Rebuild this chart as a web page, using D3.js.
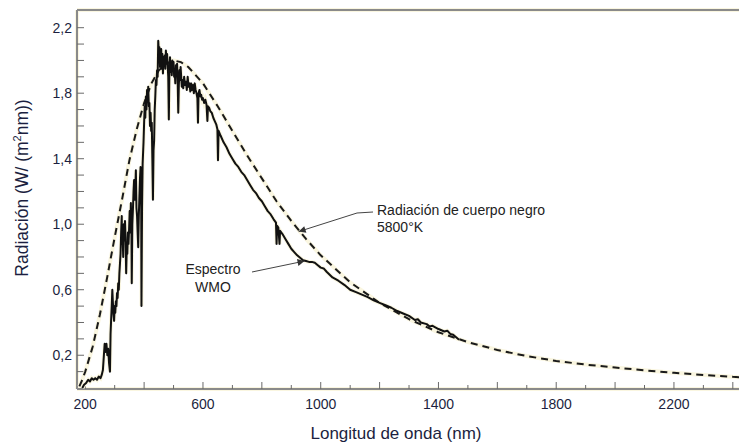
<!DOCTYPE html>
<html>
<head>
<meta charset="utf-8">
<script src="https://cdn.jsdelivr.net/npm/d3@7"></script>
<style>
  body { margin: 0; background: #fff; }
  text { font-family: "Liberation Sans", Arial, sans-serif; }
</style>
</head>
<body>
<div id="chart"></div>
<script>

// blackbody curve 5800 K (dashed)
var bodyNm = [180, 190, 200, 225, 250, 275, 300, 325, 350, 375, 400, 425, 450, 475, 500, 525, 550, 600, 650, 700,
  750, 800, 850, 900, 950, 1000, 1100, 1200, 1300, 1400, 1500, 1600, 1700, 1800, 1900, 2000, 2100, 2200, 2300, 2400, 2450];
var bodyVal = [0.01, 0.05, 0.10, 0.25, 0.45, 0.68, 0.92, 1.15, 1.39, 1.58, 1.74, 1.86, 1.94, 1.98, 2.00, 1.99, 1.96, 1.86, 1.72, 1.57,
  1.42, 1.28, 1.14, 1.02, 0.91, 0.81, 0.645, 0.52, 0.42, 0.34, 0.28, 0.232, 0.195, 0.165, 0.143, 0.125, 0.108, 0.093, 0.08, 0.068, 0.064];

// WMO spectrum (solid)
var wmoNm = [190, 196, 203, 210, 216, 222, 228, 234, 240, 246, 252, 256, 260, 263, 266, 269, 272, 275, 278, 281,
  284, 286, 288, 290, 292, 294, 296, 298, 300, 302, 304, 306, 308, 310, 312, 314, 316, 318, 320, 322,
  324, 325, 327, 329, 331, 333, 335, 337, 339, 341, 343, 345, 347, 349, 351, 353, 355, 357, 358, 360,
  362, 364, 366, 368, 370, 372, 374, 376, 378, 380, 382, 384, 386, 388, 390, 391, 393, 395, 398, 400,
  402, 404, 406, 408, 410, 412, 414, 416, 418, 420, 422, 424, 426, 428, 430, 432, 434, 436, 438, 440,
  442, 444, 446, 448, 450, 452, 454, 456, 458, 460, 462, 464, 466, 468, 470, 472, 474, 476, 478, 480,
  482, 484, 486, 488, 490, 492, 494, 496, 498, 500, 502, 504, 506, 508, 510, 512, 514, 516, 518, 520,
  522, 524, 526, 528, 530, 533, 536, 539, 542, 545, 548, 551, 554, 557, 560, 563, 566, 569, 572, 575,
  578, 581, 583, 585, 588, 591, 594, 597, 600, 604, 608, 612, 615, 617, 621, 625, 630, 635, 640, 645,
  649, 651, 653, 660, 670, 680, 690, 700, 710, 720, 730, 740, 750, 760, 770, 780, 790, 800, 810, 820,
  830, 840, 848, 850, 852, 856, 860, 862, 870, 880, 890, 900, 910, 920, 930, 940, 950, 960, 970, 980,
  990, 1000, 1010, 1020, 1040, 1060, 1080, 1100, 1120, 1140, 1160, 1180, 1200, 1220, 1240, 1260, 1280, 1300, 1320, 1330,
  1340, 1360, 1370, 1380, 1400, 1420, 1430, 1440, 1450, 1460, 1470];
var wmoVal = [0.00, 0.02, 0.03, 0.05, 0.04, 0.06, 0.05, 0.06, 0.05, 0.07, 0.06, 0.08, 0.11, 0.19, 0.27, 0.22, 0.27, 0.20, 0.24, 0.15,
  0.10, 0.33, 0.42, 0.50, 0.60, 0.52, 0.45, 0.41, 0.50, 0.46, 0.53, 0.50, 0.58, 0.55, 0.64, 0.60, 0.70, 0.76, 0.82, 0.95,
  1.05, 0.88, 0.93, 0.80, 1.00, 0.90, 1.02, 0.92, 0.70, 0.85, 0.82, 0.95, 0.88, 0.97, 1.08, 0.95, 1.13, 0.95, 0.64, 1.00,
  1.09, 1.20, 1.27, 1.15, 1.21, 1.33, 1.10, 1.05, 0.95, 0.86, 1.05, 1.17, 1.28, 1.35, 1.20, 0.50, 1.10, 1.37, 1.50, 1.62,
  1.72, 1.65, 1.78, 1.70, 1.82, 1.78, 1.84, 1.72, 1.74, 1.60, 1.68, 1.57, 1.62, 1.40, 1.15, 1.45, 1.51, 1.70, 1.78, 1.88,
  1.85, 1.94, 1.90, 2.12, 2.05, 2.08, 1.96, 2.00, 2.07, 1.95, 2.04, 1.92, 2.02, 1.98, 2.03, 1.95, 2.06, 1.99, 2.04, 1.97,
  1.90, 1.64, 1.95, 2.02, 1.93, 1.98, 1.91, 2.00, 1.95, 1.99, 1.90, 1.93, 1.86, 1.97, 1.92, 1.98, 1.88, 1.68, 1.85, 1.94,
  1.88, 1.96, 1.90, 1.84, 1.88, 1.83, 1.90, 1.85, 1.87, 1.82, 1.90, 1.84, 1.86, 1.81, 1.86, 1.82, 1.85, 1.80, 1.86, 1.82,
  1.80, 1.77, 1.62, 1.80, 1.82, 1.78, 1.79, 1.76, 1.77, 1.74, 1.76, 1.73, 1.63, 1.72, 1.71, 1.69, 1.68, 1.65, 1.63, 1.61,
  1.58, 1.39, 1.57, 1.54, 1.50, 1.47, 1.43, 1.40, 1.37, 1.35, 1.32, 1.30, 1.27, 1.24, 1.21, 1.19, 1.16, 1.14, 1.11, 1.08,
  1.06, 1.03, 1.01, 0.88, 0.99, 0.98, 0.88, 0.96, 0.94, 0.91, 0.88, 0.85, 0.83, 0.81, 0.795, 0.78, 0.775, 0.77, 0.77, 0.765,
  0.75, 0.735, 0.73, 0.71, 0.675, 0.655, 0.63, 0.60, 0.585, 0.57, 0.555, 0.535, 0.52, 0.505, 0.49, 0.47, 0.455, 0.44, 0.415, 0.42,
  0.40, 0.39, 0.375, 0.38, 0.36, 0.345, 0.35, 0.33, 0.325, 0.31, 0.295];

var xTicks = d3.range(200, 2401, 100);
var xLabels = [200, 600, 1000, 1400, 1800, 2200];
var yTicks = d3.range(1, 23).map(d => d / 10);
var yLabels = [0.2, 0.6, 1.0, 1.4, 1.8, 2.2];

var svgWidth = 739;
var svgHeight = 444;

var svg = d3.select('#chart')
  .append('svg')
  .attr('width', svgWidth)
  .attr('height', svgHeight);

// scales
var x = d3.scaleLinear().domain([172, 2421]).range([77, 739]);
var y = d3.scaleLinear().domain([0, 2.308]).range([388, 10]);

var axisColor = '#8a8a8a';
var halo = '#faf6e0';
var labelColor = '#1c1f40';

// frame (top, left, bottom)
var frame = svg.append('g');
var sides = [[77, 10, 739, 10], [77, 10, 77, 389], [77, 389, 739, 389]];
sides.forEach(function(s) {
  frame.append('line')
    .attr('x1', s[0]).attr('y1', s[1]).attr('x2', s[2]).attr('y2', s[3])
    .attr('stroke', halo).attr('stroke-width', 4);
});
sides.forEach(function(s) {
  frame.append('line')
    .attr('x1', s[0]).attr('y1', s[1]).attr('x2', s[2]).attr('y2', s[3])
    .attr('stroke', axisColor).attr('stroke-width', 2);
});

// inward ticks
svg.append('g').selectAll('line')
  .data(xTicks)
  .enter()
  .append('line')
  .attr('x1', d => x(d)).attr('x2', d => x(d))
  .attr('y1', 389).attr('y2', d => d % 200 === 0 ? 382 : 385)
  .attr('stroke', '#6a6a6a').attr('stroke-width', 1);

svg.append('g').selectAll('line')
  .data(yTicks)
  .enter()
  .append('line')
  .attr('y1', d => y(d)).attr('y2', d => y(d))
  .attr('x1', 77).attr('x2', 84)
  .attr('stroke', '#6a6a6a').attr('stroke-width', 1);

// tick labels
svg.append('g').selectAll('text')
  .data(xLabels)
  .enter()
  .append('text')
  .attr('x', d => x(d))
  .attr('y', 409)
  .attr('text-anchor', 'middle')
  .style('font-size', '14px')
  .attr('fill', labelColor)
  .text(d => d);

svg.append('g').selectAll('text')
  .data(yLabels)
  .enter()
  .append('text')
  .attr('x', 72)
  .attr('y', d => y(d) + 5)
  .attr('text-anchor', 'end')
  .style('font-size', '14px')
  .attr('fill', labelColor)
  .text(d => d3.format('.1f')(d).replace('.', ','));

// axis titles
svg.append('text')
  .attr('x', 396)
  .attr('y', 439)
  .attr('text-anchor', 'middle')
  .style('font-size', '17px')
  .attr('fill', labelColor)
  .text('Longitud de onda (nm)');

var yt = svg.append('text')
  .attr('transform', 'translate(28, 188) rotate(-90)')
  .attr('text-anchor', 'middle')
  .style('font-size', '17.5px')
  .attr('fill', labelColor);
yt.append('tspan').text('Radiación (W/ (m');
yt.append('tspan').attr('dy', -7).style('font-size', '11px').text('2');
yt.append('tspan').attr('dy', 7).text('nm))');

// lines
var line = d3.line()
  .x(d => x(d[0]))
  .y(d => y(d[1]));

var bodyData = bodyNm.map((d, i) => [d, bodyVal[i]]);
var wmoData = wmoNm.map((d, i) => [d, wmoVal[i]]);

svg.append('path').datum(bodyData)
  .attr('d', line).attr('fill', 'none')
  .attr('stroke', halo).attr('stroke-width', 4);
svg.append('path').datum(wmoData)
  .attr('d', line).attr('fill', 'none')
  .attr('stroke', halo).attr('stroke-width', 4);

svg.append('path').datum(bodyData)
  .attr('d', line).attr('fill', 'none')
  .attr('stroke', '#1a1a1a').attr('stroke-width', 2)
  .attr('stroke-dasharray', '7,5');

svg.append('path').datum(wmoData)
  .attr('d', line).attr('fill', 'none')
  .attr('stroke', '#111').attr('stroke-width', 2)
  .attr('stroke-linejoin', 'round');

// annotations
svg.append('defs').append('marker')
  .attr('id', 'head')
  .attr('viewBox', '0 0 10 10')
  .attr('refX', 10).attr('refY', 5)
  .attr('markerWidth', 9).attr('markerHeight', 7)
  .attr('markerUnits', 'userSpaceOnUse')
  .attr('orient', 'auto')
  .append('path')
  .attr('d', 'M0,0 L10,5 L0,10 z')
  .attr('fill', '#333');

svg.append('polyline')
  .attr('points', [[373, 212], [357, 213], [x(925), y(0.955)]].join(' '))
  .attr('fill', 'none')
  .attr('stroke', '#444').attr('stroke-width', 1)
  .attr('marker-end', 'url(#head)');

svg.append('line')
  .attr('x1', 252).attr('y1', 272)
  .attr('x2', x(945)).attr('y2', y(0.775))
  .attr('stroke', '#444').attr('stroke-width', 1)
  .attr('marker-end', 'url(#head)');

svg.append('text')
  .attr('x', 377).attr('y', 215)
  .style('font-size', '14px').attr('fill', '#222')
  .text('Radiación de cuerpo negro');
svg.append('text')
  .attr('x', 377).attr('y', 232)
  .style('font-size', '14px').attr('fill', '#222')
  .text('5800°K');

svg.append('text')
  .attr('x', 213).attr('y', 274)
  .attr('text-anchor', 'middle')
  .style('font-size', '14px').attr('fill', '#222')
  .text('Espectro');
svg.append('text')
  .attr('x', 213).attr('y', 292)
  .attr('text-anchor', 'middle')
  .style('font-size', '14px').attr('fill', '#222')
  .text('WMO');

</script>
</body>
</html>
